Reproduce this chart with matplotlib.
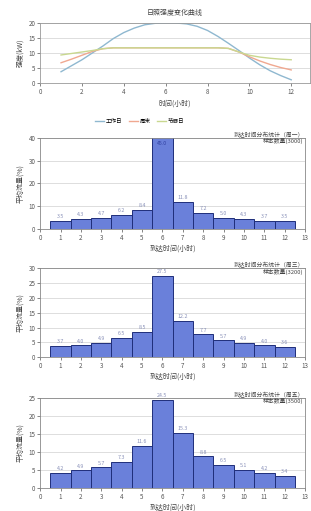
import matplotlib
matplotlib.use("Agg")
import matplotlib.pyplot as plt
import numpy as np

plt.rcParams['font.family'] = ['Noto Sans CJK SC', 'DejaVu Sans']

# ---- top line chart data (half-hour readings) ----
hours = [1, 1.5, 2, 2.5, 3, 3.5, 4, 4.5, 5, 5.5, 6, 6.5, 7, 7.5, 8, 8.5, 9, 9.5, 10, 10.5, 11, 11.5, 12]
series_names = ["工作日", "周末", "节假日"]
series_a = [3.7, 5.7, 7.7, 10.0, 12.3, 14.8, 16.8, 18.3, 19.4, 19.9, 20.0, 20.0, 19.7, 18.9, 17.5, 15.5,
            13.2, 10.8, 8.3, 6.0, 4.0, 2.4, 1.0]
series_b = [6.7, 7.9, 9.2, 10.5, 11.4, 11.7, 11.7, 11.7, 11.7, 11.7, 11.7, 11.7, 11.7, 11.7, 11.7, 11.7,
            11.5, 10.3, 8.7, 7.3, 6.1, 5.1, 4.3]
series_c = [9.3, 9.8, 10.3, 10.8, 11.4, 11.7, 11.7, 11.7, 11.7, 11.7, 11.7, 11.7, 11.7, 11.7, 11.7, 11.7,
            11.5, 10.3, 9.2, 8.6, 8.2, 7.9, 7.7]
line_colors = ["#8fb8d0", "#f0a890", "#c9d890"]

# ---- histogram data ----
bins = [1, 2, 3, 4, 5, 6, 7, 8, 9, 10, 11, 12]
hist1 = [3.5, 4.3, 4.7, 6.2, 8.4, 45.0, 11.8, 7.2, 5.0, 4.3, 3.7, 3.5]
hist2 = [3.7, 4.0, 4.9, 6.5, 8.5, 27.5, 12.2, 7.7, 5.7, 4.9, 4.0, 3.6]
hist3 = [4.2, 4.9, 5.7, 7.3, 11.6, 24.5, 15.3, 8.8, 6.5, 5.1, 4.2, 3.4]
hist_notes = [
    ("到达时间分布统计（周一）", "样本数量(3000)"),
    ("到达时间分布统计（周三）", "样本数量(3200)"),
    ("到达时间分布统计（周五）", "样本数量(3500)"),
]
hist_ylims = [40, 30, 25]
hist_ystep = [10, 5, 5]

fig = plt.figure(figsize=(3.11, 5.11), dpi=100)

fs = 4.5
grid_c = "#d8d8d8"

# top chart
ax0 = fig.add_axes([0.129, 0.838, 0.868, 0.117])
for vals, name, c in zip([series_a, series_b, series_c], series_names, line_colors):
    ax0.plot(hours, vals, color=c, lw=1.0, label=name)
ax0.set_xlim(0, 12.9)
ax0.set_ylim(0, 20)
ax0.set_xticks([0, 2, 4, 6, 8, 10, 12])
ax0.set_yticks([0, 5, 10, 15, 20])
ax0.grid(axis='y', color=grid_c, lw=0.6)
ax0.set_axisbelow(True)
ax0.tick_params(labelsize=fs, length=2, width=0.5, colors="#555555", pad=1.5)
ax0.set_title("日照强度变化曲线", fontsize=5, color="#444444", pad=6)
ax0.set_xlabel("时间(小时)", fontsize=5, color="#444444", labelpad=3)
ax0.set_ylabel("强度(kW)", fontsize=5, color="#444444", labelpad=3)
for s in ax0.spines.values():
    s.set_color("#999999")
    s.set_linewidth(0.6)
ax0.legend(loc='upper center', bbox_to_anchor=(0.37, -0.52), ncol=3, frameon=False,
           fontsize=4, handlelength=1.5, columnspacing=1.2, handletextpad=0.4)

positions = [0.552, 0.301, 0.045]
heights = [0.178, 0.174, 0.176]
for hist, note, ylim, step, b, h in zip([hist1, hist2, hist3], hist_notes, hist_ylims, hist_ystep, positions, heights):
    ax = fig.add_axes([0.129, b, 0.852, h])
    ax.bar(bins, hist, width=1.0, color="#6a80da", edgecolor="#1f2e7a", lw=0.7)
    ax.set_xlim(0, 13)
    ax.set_ylim(0, ylim)
    ax.set_xticks(range(0, 14))
    ax.set_yticks(np.arange(0, ylim + 0.1, step))
    ax.grid(axis='y', color=grid_c, lw=0.6)
    ax.set_axisbelow(True)
    ax.tick_params(labelsize=fs, length=2, width=0.5, colors="#555555", pad=1.5)
    ax.set_xlabel("到达时间(小时)", fontsize=5, color="#444444", labelpad=2)
    ax.set_ylabel("平均流量(%)", fontsize=5, color="#444444", labelpad=3)
    for s in ax.spines.values():
        s.set_color("#888888")
        s.set_linewidth(0.6)
    for xv, v in zip(bins, hist):
        if v >= ylim:
            ax.text(xv, ylim * 0.97, f"{v:.1f}", ha='center', va='top', fontsize=3.8, color="#3040a0")
        else:
            ax.text(xv, v + ylim * 0.02, f"{v:.1f}", ha='center', va='bottom', fontsize=3.8, color="#8890b8")
    ax.text(0.995, 1.0, note[0] + "\n" + note[1], transform=ax.transAxes, ha='right', va='center',
            fontsize=4.2, color="#444444", linespacing=1.1)

fig.savefig("out.png", dpi=100)
